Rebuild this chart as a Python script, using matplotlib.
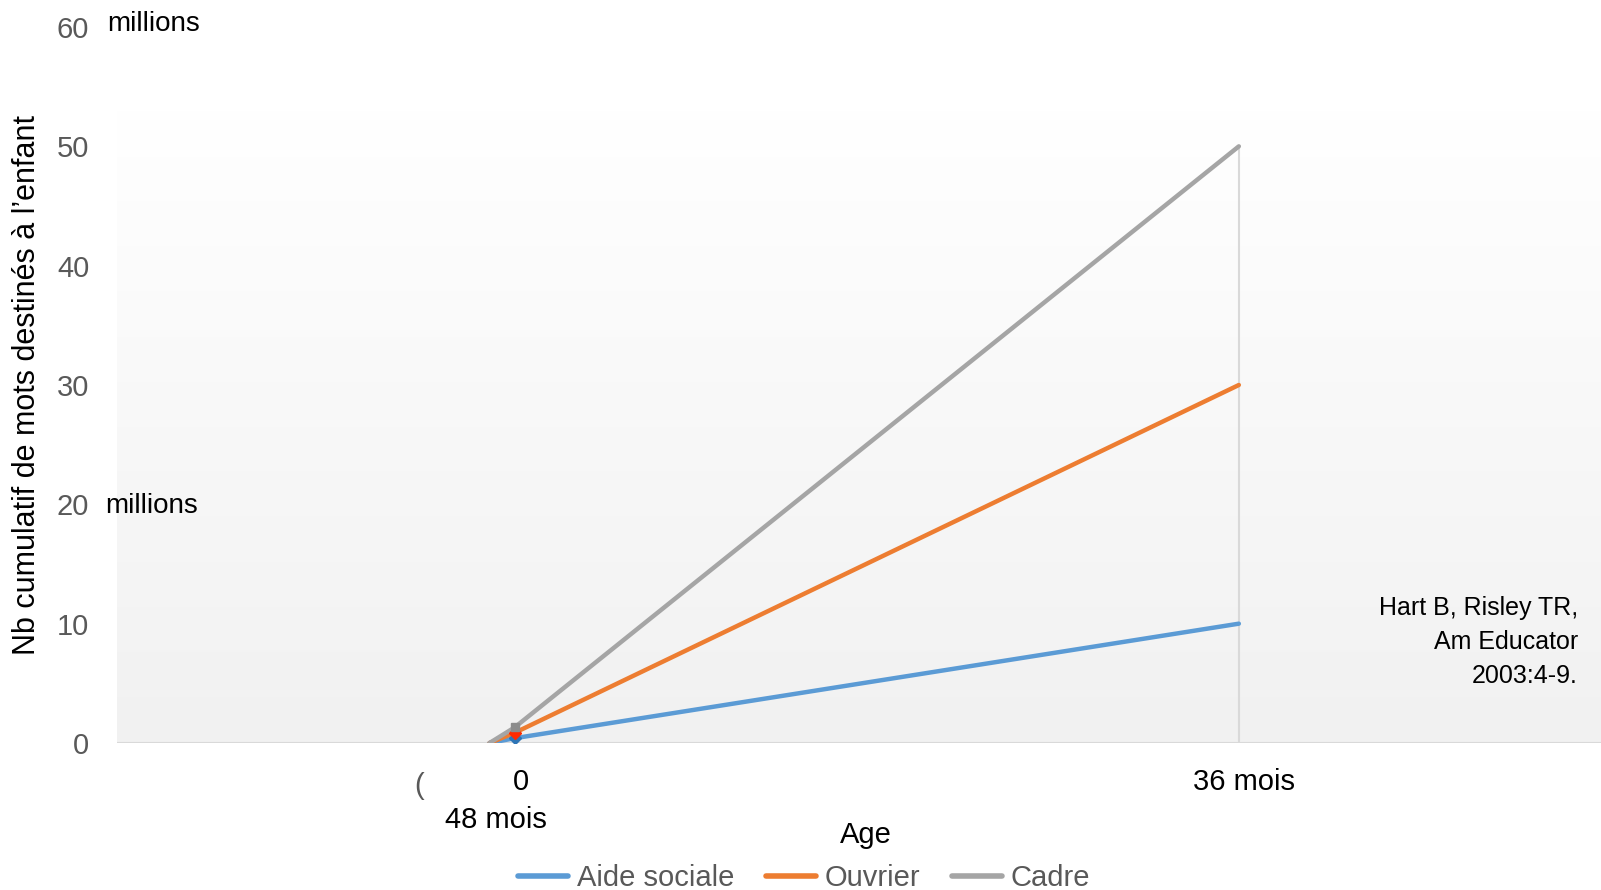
import numpy as np
import matplotlib
matplotlib.use("Agg")
import matplotlib.pyplot as plt

# data (millions of words, age in months)
age = [0, 1.2, 36]
aide_sociale = [0, 0.4, 10]
ouvrier = [0, 0.85, 30]
cadre = [0, 1.3, 50]
series = [("Aide sociale", aide_sociale, "#5B9BD5"),
          ("Ouvrier", ouvrier, "#ED7D31"),
          ("Cadre", cadre, "#A5A5A5")]
marker_cols = ["#2E75B6", "#FF2A00", "#8C8C8C"]
marker_shapes = ["D", "D", "s"]
yticks = [0, 10, 20, 30, 40, 50, 60]

plt.rcParams['font.family'] = ['Liberation Sans', 'DejaVu Sans']

W, H = 1601, 890
fig = plt.figure(figsize=(W / 100, H / 100), dpi=100)
fig.patch.set_facecolor("white")

x0, x1 = 117, 1601
y0, y1 = 743, 27
ax = fig.add_axes([x0 / W, 1 - y0 / H, (x1 - x0) / W, (y0 - y1) / H])
ax.set_facecolor("none")
xmin, xmax = -17.9, 53.4
ax.set_xlim(xmin, xmax)
ax.set_ylim(0, 60)
for s in ax.spines.values():
    s.set_visible(False)

# gradient background
grad = np.linspace(0, 1, 256).reshape(-1, 1)
ax.imshow(grad, cmap=matplotlib.colors.LinearSegmentedColormap.from_list(
    "g", ["#F1F1F1", "#FFFFFF"]), origin="lower", aspect="auto",
    extent=(xmin, xmax, 0, 53), zorder=0)

ax.axhline(0, color="#D9D9D9", lw=1.5, zorder=1)
ax.vlines(36, 0, 50, color="#D9D9D9", lw=1.5, zorder=1)

for (name, vals, col), mc, ms in zip(series, marker_cols, marker_shapes):
    ax.plot(age, vals, color=col, lw=3.2, solid_capstyle="round", label=name, zorder=3)
    ax.plot(age[1], vals[1], marker=ms, color=mc, ms=6, zorder=4, ls="none")

ax.set_yticks(yticks)
ax.set_yticklabels([str(v) for v in yticks], fontsize=21, color="#595959")
ax.tick_params(axis="y", length=0, pad=20)
ax.set_xticks([])

ax.set_ylabel("Nb cumulatif de mots destinés à l’enfant", fontsize=22, color="black")
ax.yaxis.set_label_coords(-(117 - 42) / (x1 - x0), 0.5)

fig.text(107 / W, 1 - 24 / H, "millions", fontsize=20, va="center", ha="left")
fig.text(105 / W, 1 - 506 / H, "millions", fontsize=20, va="center", ha="left")

# x labels
fig.text(521 / W, 1 - 782 / H, "0", fontsize=21, ha="center", va="center")
fig.text(419 / W, 1 - 786 / H, "(", fontsize=21, ha="center", va="center", color="#595959")
fig.text(496 / W, 1 - 820 / H, "48 mois", fontsize=21, ha="center", va="center")
fig.text(1244 / W, 1 - 782 / H, "36 mois", fontsize=21, ha="center", va="center")
fig.text(866 / W, 1 - 835 / H, "Age", fontsize=21, ha="center", va="center")

fig.text(1578 / W, 1 - 642 / H, "Hart B, Risley TR,\nAm Educator\n2003:4-9.",
         fontsize=18, ha="right", va="center", linespacing=1.55)

leg = fig.legend(loc="center", bbox_to_anchor=(804 / W, 1 - 878 / H), ncol=3,
                 frameon=False, fontsize=21, handlelength=1.7, columnspacing=1.1,
                 handletextpad=0.3)
for t in leg.get_texts():
    t.set_color("#595959")
for l in leg.get_lines():
    l.set_linewidth(4)

fig.savefig("out.png", dpi=100)
